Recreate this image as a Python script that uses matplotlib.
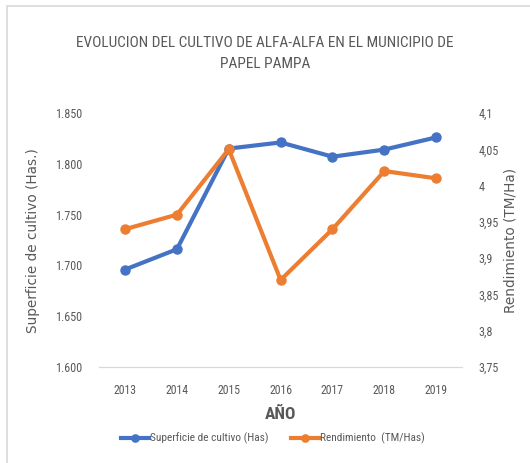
import matplotlib.pyplot as plt
from matplotlib import font_manager
from matplotlib.patches import Rectangle

years = ['2013', '2014', '2015', '2016', '2017', '2018', '2019']
superficie = [1.696, 1.716, 1.815, 1.821, 1.807, 1.814, 1.826]
rendimiento = [3.94, 3.96, 4.05, 3.87, 3.94, 4.02, 4.01]

left_ticks = [1.600, 1.650, 1.700, 1.750, 1.800, 1.850]
left_labels = ['1.600', '1.650', '1.700', '1.750', '1.800', '1.850']
right_ticks = [3.75, 3.8, 3.85, 3.9, 3.95, 4.0, 4.05, 4.1]
right_labels = ['3,75', '3,8', '3,85', '3,9', '3,95', '4', '4,05', '4,1']

# narrow font like Calibri if one is around, else Liberation Sans
names = {f.name for f in font_manager.fontManager.ttflist}
narrow = 'Liberation Sans'
for cand in ['Roboto Condensed', 'Open Sans Condensed', 'Liberation Sans Narrow']:
    if cand in names:
        narrow = cand
        break

gray = '#595959'
blue = '#4472C4'
orange = '#ED7D31'

fig = plt.figure(figsize=(5.3, 4.63), dpi=100)
fig.patches.append(Rectangle((0.013, -0.01), 1.0, 0.996, transform=fig.transFigure,
                             fill=False, edgecolor='#d9d9d9', linewidth=1.2))

ax = fig.add_axes([0.187, 0.207, 0.685, 0.549])
ax2 = ax.twinx()

x = range(len(years))
ax.plot(x, superficie, color=blue, linewidth=3, marker='o', markersize=6.5,
        label='Superficie de cultivo (Has)', zorder=3)
ax2.plot(x, rendimiento, color=orange, linewidth=3, marker='o', markersize=6.5,
         label='Rendimiento  (TM/Has)')

ax.set_xlim(-0.5, len(years) - 0.5)
ax.set_ylim(1.600, 1.850)
ax2.set_ylim(3.75, 4.1)

ax.set_xticks(list(x))
ax.set_xticklabels(years, fontfamily=narrow, fontsize=8.5, color=gray)
ax.set_yticks(left_ticks)
ax.set_yticklabels(left_labels, fontfamily=narrow, fontsize=8.7, color=gray)
ax2.set_yticks(right_ticks)
ax2.set_yticklabels(right_labels, fontfamily=narrow, fontsize=8.7, color=gray)

for a in (ax, ax2):
    for s in ['top', 'left', 'right']:
        a.spines[s].set_visible(False)
    a.spines['bottom'].set_color('#d9d9d9')
    a.tick_params(length=0)
ax.tick_params(axis='y', pad=12)
ax2.tick_params(axis='y', pad=12)
ax.tick_params(axis='x', pad=12)

ax.set_ylabel('Superficie de cultivo (Has.)', fontsize=9.8, color=gray, labelpad=11)
ax2.set_ylabel('Rendimiento (TM/Ha)', fontsize=9.8, color=gray, labelpad=3)
ax.set_xlabel('AÑO', fontfamily=narrow, fontsize=12.5, fontweight='bold', color=gray, labelpad=7)

fig.text(0.5, 0.908, 'EVOLUCION DEL CULTIVO DE ALFA-ALFA EN EL MUNICIPIO DE',
         ha='center', va='center', fontfamily=narrow, fontsize=11.1, color=gray)
fig.text(0.5, 0.862, 'PAPEL PAMPA', ha='center', va='center',
         fontfamily=narrow, fontsize=11.1, color=gray)

h1, l1 = ax.get_legend_handles_labels()
h2, l2 = ax2.get_legend_handles_labels()
fig.legend(h1 + h2, l1 + l2, loc='center', bbox_to_anchor=(0.515, 0.053), ncol=2,
           frameon=False, prop={'family': narrow, 'size': 8.2}, labelcolor=gray,
           handlelength=2.4, columnspacing=2.0, handletextpad=0.1, markerscale=0.8)

fig.savefig('out.png', dpi=100)
